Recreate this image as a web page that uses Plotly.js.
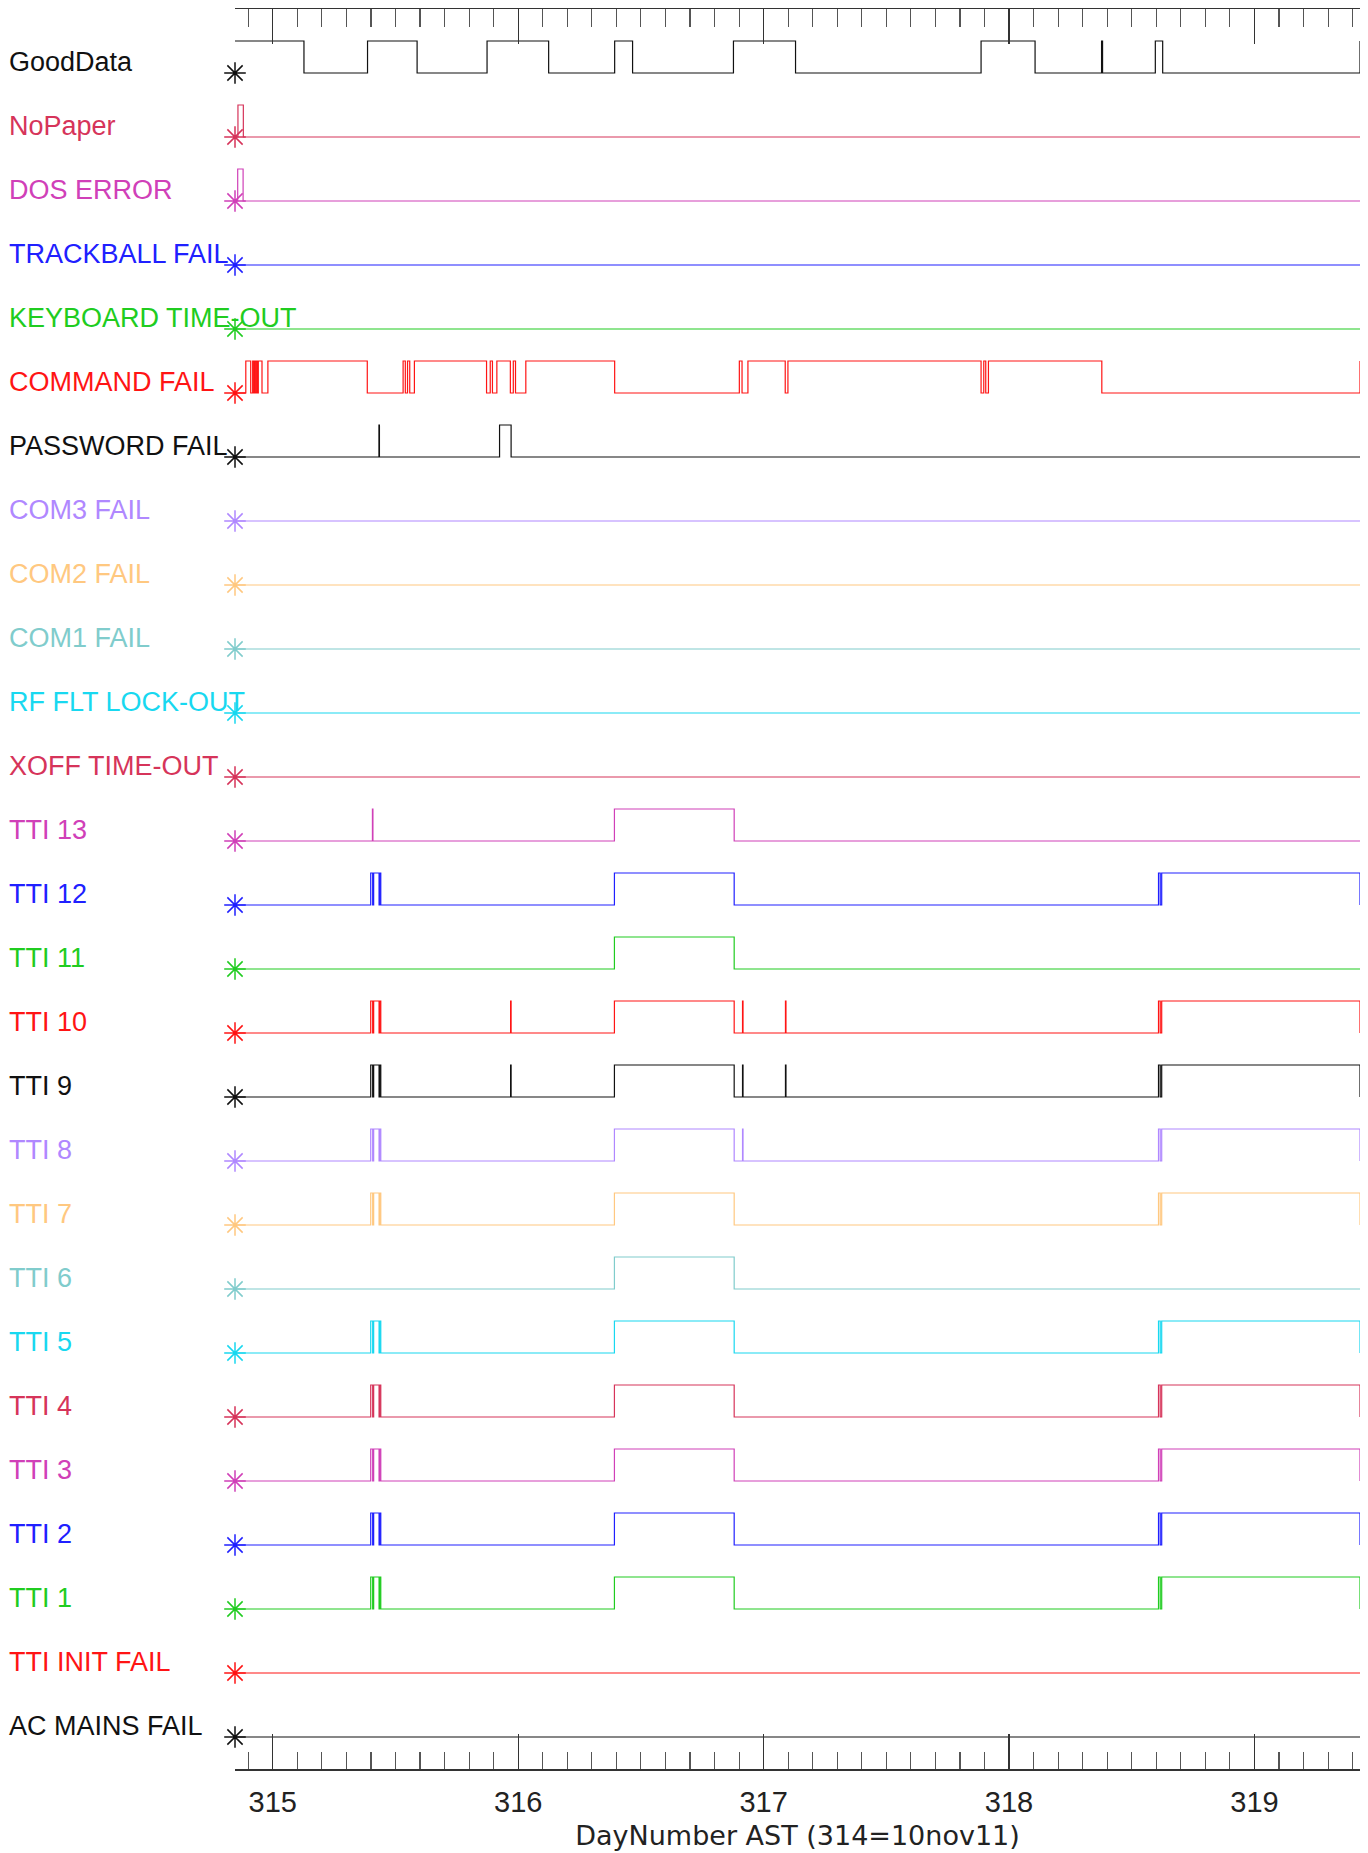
<!DOCTYPE html>
<html>
<head>
<meta charset="utf-8">
<script src="https://cdn.plot.ly/plotly-3.0.1.min.js"></script>
<style>html,body{margin:0;padding:0;background:#fff;}#chart{width:1368px;height:1853px;}</style>
</head>
<body>
<div id="chart"></div>
<script>
// ---- Data (DayNumber transitions and on/off states) ----
const rowNames = ["GoodData","NoPaper","DOS ERROR","TRACKBALL FAIL","KEYBOARD TIME-OUT","COMMAND FAIL","PASSWORD FAIL","COM3 FAIL","COM2 FAIL","COM1 FAIL","RF FLT LOCK-OUT","XOFF TIME-OUT","TTI 13","TTI 12","TTI 11","TTI 10","TTI 9","TTI 8","TTI 7","TTI 6","TTI 5","TTI 4","TTI 3","TTI 2","TTI 1","TTI INIT FAIL","AC MAINS FAIL"];
const tickDays = [315, 316, 317, 318, 319];
const tickLabels = ["315", "316", "317", "318", "319"];
const dayRange = [314.846, 319.430];

const goodDataT = [314.846, 315.127, 315.386, 315.588, 315.873, 316.124, 316.393, 316.466, 316.877, 317.130, 317.886, 318.106, 318.377, 318.381, 318.596, 318.626, 319.430];
const goodDataV = [1, 0, 1, 0, 1, 0, 1, 0, 1, 0, 1, 0, 1, 0, 1, 0, 1];
const noPaperT = [314.846, 314.858, 314.880, 319.430];
const noPaperV = [0, 1, 0, 0];
const dosErrorT = [314.846, 314.857, 314.879, 319.430];
const dosErrorV = [0, 1, 0, 0];
const trackballT = [314.846, 319.430];
const trackballV = [0, 0];
const keyboardT = [314.846, 319.430];
const keyboardV = [0, 0];
const commandT = [314.846, 314.890, 314.910, 314.918, 314.923, 314.926, 314.931, 314.933, 314.938, 314.941, 314.956, 314.980, 315.385, 315.531, 315.540, 315.549, 315.558, 315.577, 315.871, 315.886, 315.895, 315.913, 315.968, 315.980, 315.989, 316.031, 316.393, 316.901, 316.912, 316.936, 317.088, 317.099, 317.886, 317.897, 317.905, 317.916, 318.378, 319.430];
const commandV = [0, 1, 0, 1, 0, 1, 0, 1, 0, 1, 0, 1, 0, 1, 0, 1, 0, 1, 0, 1, 0, 1, 0, 1, 0, 1, 0, 1, 0, 1, 0, 1, 0, 1, 0, 1, 0, 1];
const passwordT = [314.846, 315.4325, 315.4345, 315.924, 315.971, 319.430];
const passwordV = [0, 1, 0, 1, 0, 0];
const com3T = [314.846, 319.430];
const com3V = [0, 0];
const com2T = [314.846, 319.430];
const com2V = [0, 0];
const com1T = [314.846, 319.430];
const com1V = [0, 0];
const rfLockT = [314.846, 319.430];
const rfLockV = [0, 0];
const xoffT = [314.846, 319.430];
const xoffV = [0, 0];
const tti13T = [314.846, 315.406, 315.408, 316.392, 316.880, 319.430];
const tti13V = [0, 1, 0, 1, 0, 0];
const tti12T = [314.846, 315.399, 315.407, 315.411, 315.433, 315.435, 315.440, 316.392, 316.880, 318.609, 318.616, 318.622, 319.430];
const tti12V = [0, 1, 0, 1, 0, 1, 0, 1, 0, 1, 0, 1, 0];
const tti11T = [314.846, 316.392, 316.880, 319.430];
const tti11V = [0, 1, 0, 0];
const tti10T = [314.846, 315.399, 315.407, 315.411, 315.433, 315.435, 315.440, 315.969, 315.971, 316.392, 316.880, 316.914, 316.916, 317.089, 317.091, 318.609, 318.616, 318.622, 319.430];
const tti10V = [0, 1, 0, 1, 0, 1, 0, 1, 0, 1, 0, 1, 0, 1, 0, 1, 0, 1, 0];
const tti9T = [314.846, 315.399, 315.407, 315.411, 315.433, 315.435, 315.440, 315.969, 315.971, 316.392, 316.880, 316.914, 316.916, 317.089, 317.091, 318.609, 318.616, 318.622, 319.430];
const tti9V = [0, 1, 0, 1, 0, 1, 0, 1, 0, 1, 0, 1, 0, 1, 0, 1, 0, 1, 0];
const tti8T = [314.846, 315.399, 315.407, 315.411, 315.433, 315.435, 315.440, 316.392, 316.880, 316.914, 316.916, 318.609, 318.616, 318.622, 319.430];
const tti8V = [0, 1, 0, 1, 0, 1, 0, 1, 0, 1, 0, 1, 0, 1, 0];
const tti7T = [314.846, 315.399, 315.407, 315.411, 315.433, 315.435, 315.440, 316.392, 316.880, 318.609, 318.616, 318.622, 319.430];
const tti7V = [0, 1, 0, 1, 0, 1, 0, 1, 0, 1, 0, 1, 0];
const tti6T = [314.846, 316.392, 316.880, 319.430];
const tti6V = [0, 1, 0, 0];
const tti5T = [314.846, 315.399, 315.407, 315.411, 315.433, 315.435, 315.440, 316.392, 316.880, 318.609, 318.616, 318.622, 319.430];
const tti5V = [0, 1, 0, 1, 0, 1, 0, 1, 0, 1, 0, 1, 0];
const tti4T = [314.846, 315.399, 315.407, 315.411, 315.433, 315.435, 315.440, 316.392, 316.880, 318.609, 318.616, 318.622, 319.430];
const tti4V = [0, 1, 0, 1, 0, 1, 0, 1, 0, 1, 0, 1, 0];
const tti3T = [314.846, 315.399, 315.407, 315.411, 315.433, 315.435, 315.440, 316.392, 316.880, 318.609, 318.616, 318.622, 319.430];
const tti3V = [0, 1, 0, 1, 0, 1, 0, 1, 0, 1, 0, 1, 0];
const tti2T = [314.846, 315.399, 315.407, 315.411, 315.433, 315.435, 315.440, 316.392, 316.880, 318.609, 318.616, 318.622, 319.430];
const tti2V = [0, 1, 0, 1, 0, 1, 0, 1, 0, 1, 0, 1, 0];
const tti1T = [314.846, 315.399, 315.407, 315.411, 315.433, 315.435, 315.440, 316.392, 316.880, 318.609, 318.616, 318.622, 319.430];
const tti1V = [0, 1, 0, 1, 0, 1, 0, 1, 0, 1, 0, 1, 0];
const ttiInitT = [314.846, 319.430];
const ttiInitV = [0, 0];
const acMainsT = [314.846, 319.430];
const acMainsV = [0, 0];

const seriesT = [goodDataT, noPaperT, dosErrorT, trackballT, keyboardT, commandT, passwordT, com3T, com2T, com1T, rfLockT, xoffT, tti13T, tti12T, tti11T, tti10T, tti9T, tti8T, tti7T, tti6T, tti5T, tti4T, tti3T, tti2T, tti1T, ttiInitT, acMainsT];
const seriesV = [goodDataV, noPaperV, dosErrorV, trackballV, keyboardV, commandV, passwordV, com3V, com2V, com1V, rfLockV, xoffV, tti13V, tti12V, tti11V, tti10V, tti9V, tti8V, tti7V, tti6V, tti5V, tti4V, tti3V, tti2V, tti1V, ttiInitV, acMainsV];

// ---- Styles ----
const BLK = '#111111', CRM = '#d6345a', MAG = '#d040b8', BLU = '#2020ff', GRN = '#20cc20', RED = '#ff1414', PUR = '#b088ff', ORA = '#ffc880', TEA = '#80cccc', CYA = '#18d8f0';
const rowColors = [BLK, CRM, MAG, BLU, GRN, RED, BLK, PUR, ORA, TEA, CYA, CRM, MAG, BLU, GRN, RED, BLK, PUR, ORA, TEA, CYA, CRM, MAG, BLU, GRN, RED, BLK];
const FONT = 'Liberation Sans, Arial, sans-serif';
const TFONT = 'DejaVu Sans, Liberation Sans, sans-serif';
const nRows = rowNames.length;

const traces = [];
const annotations = [];
const markX = [], markY = [];
for (let i = 0; i < nRows; i++) {
  const base = nRows - 1 - i;
  traces.push({
    type: 'scatter', mode: 'lines',
    x: seriesT[i],
    y: seriesV[i].map(v => base + 0.5 * v),
    line: {shape: 'hv', color: rowColors[i], width: 1.2},
    hoverinfo: 'skip', showlegend: false
  });
  markX.push(seriesT[i][0]);
  markY.push(base);
  annotations.push({
    xref: 'paper', yref: 'y', x: -0.2027, y: base,
    xanchor: 'left', yanchor: 'middle', yshift: 11,
    text: rowNames[i], showarrow: false,
    font: {family: FONT, size: 27, color: rowColors[i]}
  });
}
traces.push({
  type: 'scatter', mode: 'markers', x: markX, y: markY,
  marker: {symbol: 'asterisk-open', size: 18, color: rowColors, line: {color: rowColors, width: 1.5}},
  cliponaxis: false, hoverinfo: 'skip', showlegend: false
});

const layout = {
  width: 1368, height: 1853,
  margin: {l: 235, r: 8, t: 9, b: 84},
  paper_bgcolor: '#ffffff', plot_bgcolor: '#ffffff',
  showlegend: false,
  font: {family: FONT, color: '#222'},
  xaxis: {
    range: dayRange, showline: true, linecolor: '#333', linewidth: 1.5,
    mirror: 'ticks', ticks: 'inside', ticklen: 35, tickwidth: 1.3, tickcolor: '#333',
    tickmode: 'array', tickvals: tickDays, ticktext: tickLabels,
    minor: {dtick: 0.1, tick0: 315, ticks: 'inside', ticklen: 17.5, tickwidth: 1.1, tickcolor: '#555', showgrid: false},
    showgrid: false, zeroline: false, automargin: false,
    tickfont: {family: FONT, size: 29, color: '#222'},
    ticklabelstandoff: 7,
    title: {text: 'DayNumber AST (314=10nov11)', font: {family: TFONT, size: 27, color: '#222'}, standoff: 9}
  },
  yaxis: {
    range: [-0.5, 27], showline: false, showgrid: false, zeroline: false,
    showticklabels: false, ticks: '', fixedrange: true
  },
  annotations: annotations
};

Plotly.newPlot('chart', traces, layout, {displayModeBar: false, staticPlot: true});
</script>
</body>
</html>
